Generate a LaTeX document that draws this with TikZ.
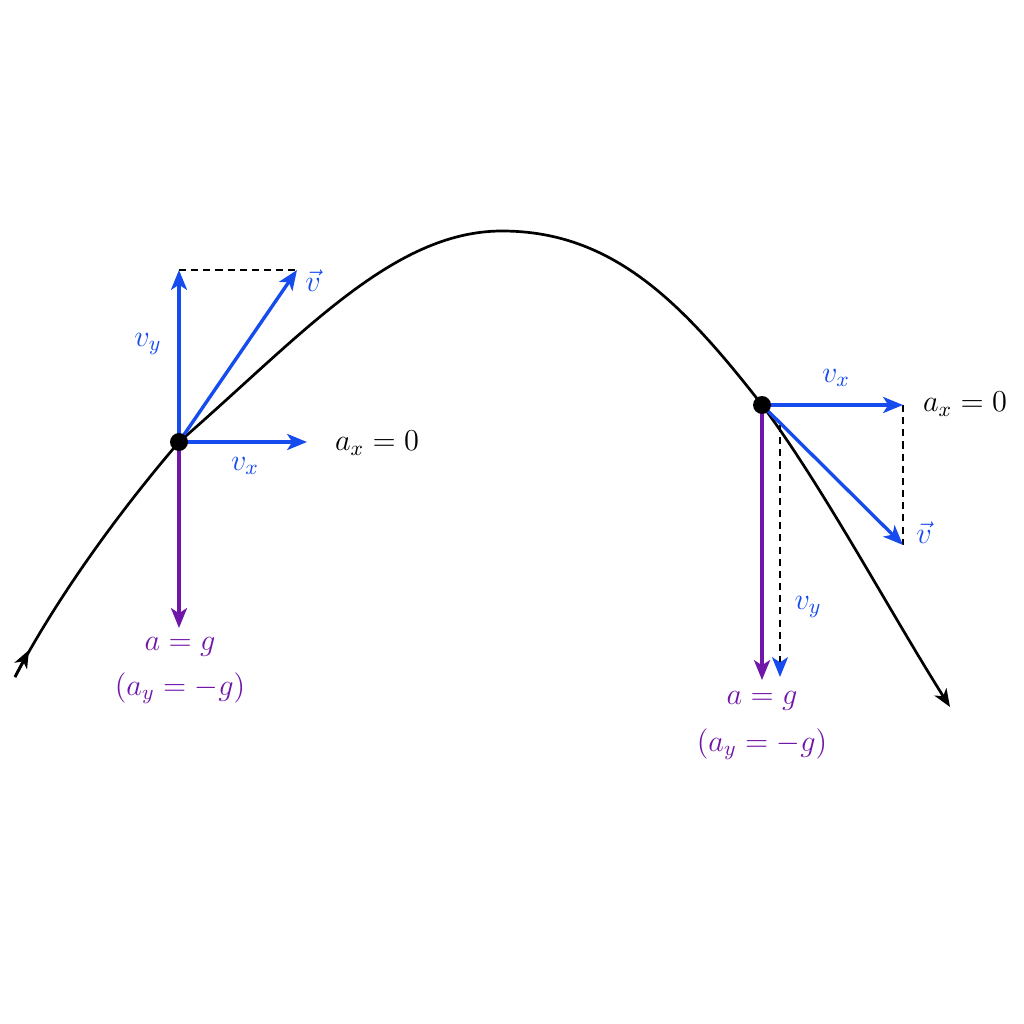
\RequirePackage{fix-cm}
\documentclass[tikz,border=0pt]{standalone}
\usetikzlibrary{arrows.meta}
\definecolor{vblue}{RGB}{22,75,238}
\definecolor{apurple}{RGB}{112,22,168}

\begin{document}
\begin{tikzpicture}[x=0.15625mm, y=-0.15625mm,
    font=\fontsize{13.5}{16}\selectfont,
    tip/.style={-{Stealth[length=3.1mm, width=2.5mm, inset=0.8mm]}},
    vec/.style={vblue, line width=1.5pt, tip},
    acc/.style={apurple, line width=1.5pt, tip},
    comp/.style={line width=0.9pt, dash pattern=on 1.1mm off 0.8mm},
    path tip/.style={-{Stealth[length=2.8mm, width=2.2mm, inset=0.8mm]}},
    dot/.style={circle, fill=black, inner sep=0pt, minimum size=2.8mm}]
    \useasboundingbox (0,0) rectangle (1024,1024);

    % points on the path
    \coordinate (start) at (15,677);
    \coordinate (mark) at (29,650);
    \coordinate (p1) at (179,442);
    \coordinate (top) at (502,231);
    \coordinate (p2) at (762,405);
    \coordinate (stop) at (950,707);

    % trajectory
    \draw[line width=1.2pt, path tip] (start)
        .. controls (60,592) and (124,506) .. (p1)
        .. controls (300,337) and (392,231) .. (top)
        .. controls (612,231) and (682,302) .. (p2)
        .. controls (822,485) and (890,612) .. (stop);
    \draw[line width=1.2pt, path tip] (start) -- (mark);

    % left point
    \coordinate (vy1) at (179,270);
    \coordinate (v1) at (297,270);
    \coordinate (vx1) at (307,442);
    \coordinate (a1) at (179,628);
    \draw[comp] (vy1) -- (v1);
    \draw[vec] (p1) -- (vy1);
    \draw[vec] (p1) -- (v1);
    \draw[vec] (p1) -- (vx1);
    \draw[acc] (p1) -- (a1);
    \node[vblue] (vy1lbl) at (148,344) {$v_y$};
    \node[vblue] (vx1lbl) at (245,466) {$v_x$};
    \node[vblue] (v1lbl) at (313,281) {$\vec v$};
    \node (ax1lbl) at (377,443) {$a_x = 0$};
    \node[apurple] (a1lbl) at (180,647) {$a = g$};
    \node[apurple] (ay1lbl) at (180,688) {$(a_y = -g)$};
    \node[dot] (dot1) at (p1) {};

    % right point
    \coordinate (vx2) at (903,405);
    \coordinate (v2) at (903,545);
    \coordinate (vy2s) at (780,425);
    \coordinate (vy2) at (780,677);
    \coordinate (a2) at (762,680);
    \draw[comp] (vx2) -- (v2);
    \draw[comp, -{Stealth[length=3.1mm, width=2.5mm, inset=0.8mm, vblue]}] (vy2s) -- (vy2);
    \draw[vec] (p2) -- (vx2);
    \draw[vec] (p2) -- (v2);
    \draw[acc] (p2) -- (a2);
    \node[vblue] (vx2lbl) at (836,378) {$v_x$};
    \node (ax2lbl) at (965,404) {$a_x = 0$};
    \node[vblue] (v2lbl) at (924,533) {$\vec v$};
    \node[vblue] (vy2lbl) at (808,607) {$v_y$};
    \node[apurple] (a2lbl) at (762,701) {$a = g$};
    \node[apurple] (ay2lbl) at (762,744) {$(a_y = -g)$};
    \node[dot] (dot2) at (p2) {};
\end{tikzpicture}
\end{document}
